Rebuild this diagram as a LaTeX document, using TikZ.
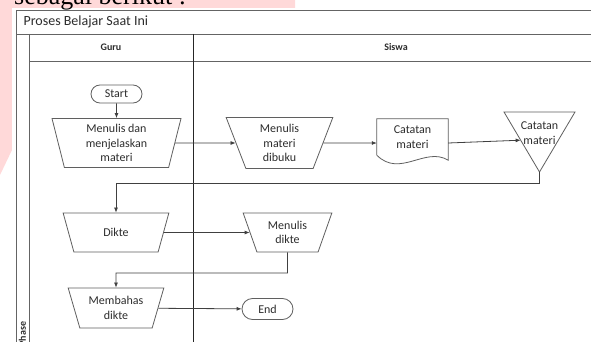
\documentclass[tikz,border=0pt]{standalone}
\usepackage{fontspec}
\setmainfont{Carlito}
\newfontfamily\pageserif{Liberation Serif}
\usetikzlibrary{positioning,calc,shapes.geometric,shapes.misc,arrows.meta}
\definecolor{markpink}{RGB}{255,217,217}
\definecolor{laneline}{RGB}{100,100,100}
\definecolor{shapeline}{RGB}{95,95,95}
\definecolor{flowtext}{RGB}{45,45,45}

\begin{document}
\begin{tikzpicture}[x=1pt,y=-1pt]
  \useasboundingbox (0,0) rectangle (591,342);
  \clip (0,0) rectangle (591,342);
  % page behind the chart
  \fill [markpink] (0,0) -- (295,0) -- (295,8.5) -- (12,8.5) -- (12,150) -- (0,175) -- cycle;
  \fill [white] (12,8.5) rectangle (610,350);
  \node [anchor=base west,inner sep=0pt,font=\pageserif\fontsize{26}{30}\selectfont] (pagetext) at (14,5) {sebagai berikut :};

  \begin{scope}[
    every node/.style={
      text=flowtext,
    },
    poolline/.style={
      draw=laneline,
      line width=0.8pt,
    },
    ]
    % pool and lanes
    \draw [poolline] (610,10) -- (16,10) -- (16,350);
    \draw [poolline] (16,34) -- (610,34);
    \draw [poolline] (29,34) -- (29,350);
    \draw [poolline] (29,61) -- (610,61);
    \draw [poolline,draw=black!85] (193,34) -- (193,350);
    \node [anchor=west,font=\fontsize{14}{16}\selectfont] (pool) at (20,22) {Proses Belajar Saat Ini};
    \node [font=\bfseries\fontsize{10}{12}\selectfont] (guru) at (111,47.5) {Guru};
    \node [font=\bfseries\fontsize{10}{12}\selectfont] (siswa) at (396,47.5) {Siswa};
    \node [rotate=90,font=\bfseries\fontsize{10}{12}\selectfont] (phase) at (22.5,334) {Phase};
  \end{scope}

  \begin{scope}[
    every node/.style={
      text=flowtext,
      font=\fontsize{12}{14.5}\selectfont,
      align=center,
      inner sep=0pt,
    },
    terminal/.style={
      rounded rectangle,
      draw=shapeline,
      line width=0.8pt,
      minimum width=51pt,
    },
    manual/.style={
      trapezium,
      shape border rotate=180,
      trapezium stretches=true,
      draw=shapeline,
      line width=0.8pt,
    },
    ]
    % Guru
    \node [terminal,minimum height=18pt] (start) at (116.5,94) {Start};
    \node [manual,minimum width=129pt,minimum height=49pt,trapezium angle=79] (menjelaskan) at (116.5,143) {Menulis dan\\menjelaskan\\materi};
    \node [manual,minimum width=106pt,minimum height=39pt,trapezium angle=69] (dikte) at (116,232.5) {Dikte};
    \node [manual,minimum width=96pt,minimum height=40pt,trapezium angle=69] (membahas) at (116,308) {Membahas\\dikte};

    % Siswa
    \node [manual,minimum width=107pt,minimum height=51pt,trapezium angle=73] (dibuku) at (279.5,143) {Menulis\\materi\\dibuku};
    \node [minimum width=71pt,minimum height=36pt] (catatan) at (412.5,137) {Catatan\\materi};
    \draw [shapeline,line width=0.8pt] (catatan.south west) -- (catatan.north west) -- (catatan.north east)
      -- ([yshift=-5pt]catatan.south east) .. controls +(-23,-14) and +(23,23) .. (catatan.south west);
    \node (simpan) at (539.5,133) {Catatan\\materi};
    \draw [shapeline,line width=0.8pt] ($(simpan)+(-35.5,-21)$) coordinate (simpanNW)
      -- ($(simpan)+(35.5,-21)$) -- ($(simpan)+(0,39)$) coordinate (simpanS) -- cycle;
    \coordinate (simpanIn) at ($(simpanNW)!0.47!(simpanS)$);
    \node [manual,minimum width=89pt,minimum height=39pt,trapezium angle=69] (mdikte) at (287.5,232.5) {Menulis\\dikte};
    \node [terminal,minimum height=21pt] (end) at (267.5,309) {End};
  \end{scope}

  \begin{scope}[
    myarrow/.style={
      ->,
      >={Latex[length=5pt,width=4pt]},
      draw=black!75,
      line width=0.8pt,
    },
    ]
    % Path Guru
    \draw [myarrow] (start) -- (menjelaskan);
    \draw [myarrow] (menjelaskan) -- (dibuku);
    \draw [myarrow] (dikte) -- (mdikte);
    \draw [myarrow] (membahas) -- (end);

    % Path Siswa
    \draw [myarrow] (dibuku) -- (dibuku -| catatan.west);
    \draw [myarrow] (catatan.east |- dibuku) -- (simpanIn);
    \draw [myarrow] (simpanS) -- ++(0,11) -| (dikte);
    \draw [myarrow] (mdikte) -- ++(0,40.5) -| (membahas);
  \end{scope}
\end{tikzpicture}
\end{document}
